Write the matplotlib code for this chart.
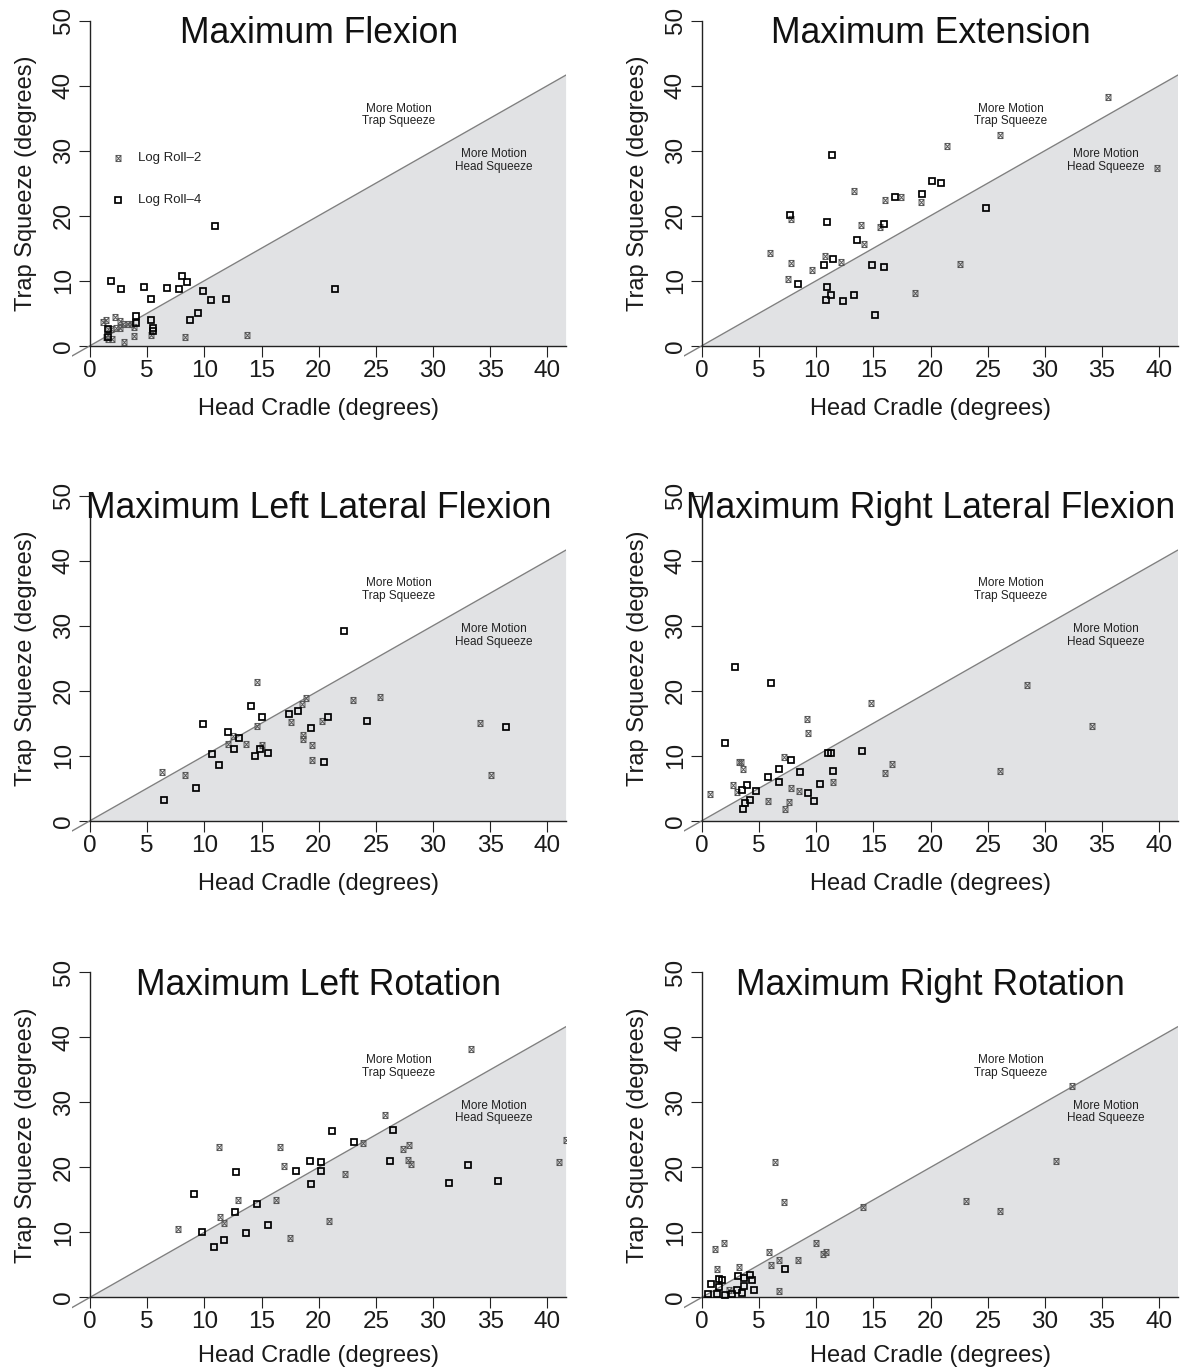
import matplotlib
matplotlib.use("Agg")
import matplotlib.pyplot as plt
from matplotlib.path import Path

plt.rcParams['font.family'] = ['Liberation Sans', 'DejaVu Sans']

titles = ["Maximum Flexion", "Maximum Extension",
          "Maximum Left Lateral Flexion", "Maximum Right Lateral Flexion",
          "Maximum Left Rotation", "Maximum Right Rotation"]
xlabel = "Head Cradle (degrees)"
ylabel = "Trap Squeeze (degrees)"
xticks = [0, 5, 10, 15, 20, 25, 30, 35, 40]
yticks = [0, 10, 20, 30, 40, 50]
legend_labels = ["Log Roll\u20132", "Log Roll\u20134"]
note_trap = "More Motion\nTrap Squeeze"
note_head = "More Motion\nHead Squeeze"

# ---- data: (x = Head Cradle, y = Trap Squeeze) ----
flex_lr2_x = [1.1, 1.4, 2.2, 2.6, 2.6, 2.3, 1.6, 1.6, 1.9, 1.4, 3.0, 3.3, 3.8, 3.8, 5.3, 8.3, 13.7, 1.8, 2.9, 3.6]
flex_lr2_y = [3.7, 3.9, 4.4, 3.8, 2.7, 2.7, 2.5, 1.1, 1.1, 1.3, 0.6, 3.4, 2.9, 1.5, 1.7, 1.4, 1.7, 2.5, 3.3, 3.4]
flex_lr4_x = [10.95, 1.8, 2.7, 4.7, 5.35, 6.75, 7.8, 8.0, 8.5, 9.9, 10.6, 11.85, 21.4, 9.4, 8.7, 4.0, 4.0, 5.35, 5.5, 5.5, 1.6, 1.6]
flex_lr4_y = [18.4, 9.95, 8.7, 9.0, 7.2, 8.9, 8.8, 10.8, 9.85, 8.4, 7.1, 7.2, 8.8, 5.0, 4.0, 4.5, 3.5, 3.9, 2.8, 2.3, 2.5, 1.3]

ext_lr2_x = [26.1, 21.4, 13.3, 16.0, 17.4, 19.2, 7.8, 13.9, 15.6, 14.2, 5.95, 10.8, 12.2, 7.8, 9.6, 7.5, 22.6, 18.6, 35.5, 39.8]
ext_lr2_y = [32.4, 30.8, 23.8, 22.4, 22.9, 22.1, 19.5, 18.6, 18.3, 15.6, 14.3, 13.8, 12.9, 12.7, 11.6, 10.3, 12.5, 8.05, 38.2, 27.3]
ext_lr4_x = [11.35, 7.7, 10.97, 13.6, 15.96, 16.9, 19.25, 20.16, 20.88, 24.88, 11.46, 10.65, 14.85, 15.96, 8.37, 10.97, 11.26, 10.88, 12.37, 13.27, 15.17]
ext_lr4_y = [29.4, 20.1, 19.1, 16.2, 18.8, 22.9, 23.4, 25.4, 25.0, 21.2, 13.3, 12.4, 12.4, 12.1, 9.5, 9.1, 7.85, 7.0, 6.9, 7.8, 4.7]

llf_lr2_x = [14.6, 18.9, 18.5, 23.0, 25.4, 14.6, 17.6, 20.3, 12.5, 12.1, 13.6, 15.0, 18.6, 18.6, 19.4, 19.4, 6.3, 8.3, 34.1, 35.1]
llf_lr2_y = [21.4, 18.9, 17.9, 18.5, 19.0, 14.6, 15.2, 15.3, 13.1, 11.8, 11.8, 11.6, 13.2, 12.5, 11.6, 9.4, 7.5, 7.1, 15.0, 7.1]
llf_lr4_x = [22.2, 14.1, 15.0, 17.4, 18.2, 20.8, 24.2, 9.9, 12.1, 13.0, 12.6, 14.9, 14.4, 15.6, 19.3, 20.5, 10.7, 11.3, 9.3, 6.5, 36.4]
llf_lr4_y = [29.2, 17.6, 15.9, 16.4, 16.9, 15.9, 15.3, 14.9, 13.6, 12.8, 11.1, 11.1, 10.0, 10.4, 14.3, 9.1, 10.3, 8.6, 5.1, 3.2, 14.4]

rlf_lr2_x = [14.8, 9.2, 9.3, 3.25, 3.4, 3.6, 7.2, 16.6, 16.0, 2.7, 3.1, 0.67, 7.8, 8.5, 11.5, 5.8, 7.6, 7.3, 28.4, 34.1, 26.1]
rlf_lr2_y = [18.05, 15.7, 13.5, 9.1, 9.0, 8.0, 9.8, 8.8, 7.4, 5.5, 4.4, 4.05, 5.0, 4.6, 5.9, 3.1, 2.9, 1.85, 20.9, 14.6, 7.6]
rlf_lr4_x = [2.86, 6.0, 2.0, 11.0, 11.3, 14.0, 7.8, 6.7, 8.6, 11.5, 5.8, 6.7, 10.3, 3.9, 3.5, 4.7, 9.3, 4.2, 3.8, 9.8, 3.6]
rlf_lr4_y = [23.6, 21.2, 11.9, 10.4, 10.4, 10.8, 9.3, 7.9, 7.5, 7.7, 6.7, 5.9, 5.7, 5.5, 4.7, 4.6, 4.3, 3.2, 2.7, 3.1, 1.8]

lrot_lr2_x = [25.8, 11.3, 16.6, 17.0, 23.9, 27.4, 27.9, 27.8, 28.1, 22.3, 12.9, 16.3, 11.4, 11.7, 7.7, 20.9, 17.5, 33.3, 41.6, 41.0]
lrot_lr2_y = [28.0, 23.1, 23.1, 20.2, 23.7, 22.8, 23.4, 21.2, 20.5, 18.9, 15.0, 15.0, 12.4, 11.5, 10.5, 11.7, 9.2, 38.2, 24.2, 20.8]
lrot_lr4_x = [21.2, 26.5, 23.1, 19.2, 20.2, 18.0, 20.2, 19.3, 26.2, 12.8, 9.1, 14.6, 12.7, 15.6, 9.8, 13.6, 11.7, 10.8, 33.1, 31.4, 35.7]
lrot_lr4_y = [25.6, 25.7, 23.9, 21.0, 20.8, 19.5, 19.4, 17.5, 21.0, 19.3, 15.9, 14.3, 13.2, 11.2, 10.05, 9.9, 8.8, 7.7, 20.35, 17.6, 17.9]

rrot_lr2_x = [6.36, 7.14, 14.1, 1.95, 1.14, 9.97, 5.83, 6.76, 8.37, 6.0, 10.55, 10.85, 1.28, 3.27, 2.33, 6.73, 23.1, 26.1, 31.0, 32.4]
rrot_lr2_y = [20.8, 14.7, 13.9, 8.3, 7.4, 8.3, 6.9, 5.7, 5.7, 5.0, 6.7, 6.9, 4.3, 4.6, 1.2, 0.9, 14.8, 13.3, 20.9, 32.5]
rrot_lr4_x = [0.5, 1.28, 2.04, 2.6, 3.5, 3.06, 1.46, 0.79, 1.46, 1.72, 3.12, 3.64, 4.23, 4.37, 3.64, 4.58, 7.26]
rrot_lr4_y = [0.5, 0.5, 0.4, 0.5, 0.6, 1.1, 1.6, 2.0, 2.8, 2.6, 3.3, 2.9, 3.5, 2.6, 1.7, 1.2, 4.3]

panels = [
    (flex_lr2_x, flex_lr2_y, flex_lr4_x, flex_lr4_y),
    (ext_lr2_x, ext_lr2_y, ext_lr4_x, ext_lr4_y),
    (llf_lr2_x, llf_lr2_y, llf_lr4_x, llf_lr4_y),
    (rlf_lr2_x, rlf_lr2_y, rlf_lr4_x, rlf_lr4_y),
    (lrot_lr2_x, lrot_lr2_y, lrot_lr4_x, lrot_lr4_y),
    (rrot_lr2_x, rrot_lr2_y, rrot_lr4_x, rrot_lr4_y),
]

# square-with-cross marker (like R pch=7)
w, h = 0.4, 0.5
verts = [(-w, -h), (w, -h), (w, h), (-w, h), (-w, -h),
         (-w, -h), (w, h), (-w, h), (w, -h)]
codes = [Path.MOVETO, Path.LINETO, Path.LINETO, Path.LINETO, Path.CLOSEPOLY,
         Path.MOVETO, Path.LINETO, Path.MOVETO, Path.LINETO]
boxx = Path(verts, codes)

XMIN, XMAX = -1.6, 41.6
YMIN, YMAX = -2.0, 52.0

FW, FH = 1182, 1369
fig = plt.figure(figsize=(FW / 100, FH / 100), dpi=100)

col_left = [71.8, 683.7]
row_bottom = [358.7, 833.7, 1310.3]
xlabel_y = [-0.143, -0.143, -0.129]
aw, ah = 493.8, 351.0

GRAY2 = '#555555'
FILL = '#e1e2e4'
LINEC = '#808080'
MS2, MEW2 = 4.4, 0.7
MS4, MEW4 = 4.7, 1.25

for i, (x2, y2, x4, y4) in enumerate(panels):
    r, c = divmod(i, 2)
    ax = fig.add_axes([col_left[c] / FW, 1 - row_bottom[r] / FH, aw / FW, ah / FH])
    ax.set_xlim(XMIN, XMAX)
    ax.set_ylim(YMIN, YMAX)
    ax.patch.set_visible(False)

    ax.fill_between([0, XMAX], [0, 0], [0, XMAX], color=FILL, lw=0, zorder=1)
    ax.axline((0, 0), slope=1, color=LINEC, lw=1.0, zorder=2)

    ax.plot(x2, y2, linestyle='none', marker=boxx, markersize=MS2,
            markerfacecolor='none', markeredgecolor=GRAY2, markeredgewidth=MEW2, zorder=3)
    ax.plot(x4, y4, linestyle='none', marker='s', markersize=MS4,
            markerfacecolor='none', markeredgecolor='black', markeredgewidth=MEW4, zorder=4)

    for s in ['top', 'right']:
        ax.spines[s].set_visible(False)
    ax.spines['left'].set_position(('data', 0))
    ax.spines['bottom'].set_position(('data', 0))
    ax.spines['left'].set_bounds(0, 50)
    ax.spines['bottom'].set_bounds(0, XMAX)
    for s in ['left', 'bottom']:
        ax.spines[s].set_linewidth(1.0)
        ax.spines[s].set_color('#222222')

    ax.set_xticks(xticks)
    ax.set_yticks(yticks)
    ax.set_xticklabels([str(t) for t in xticks])
    ax.set_yticklabels([str(t) for t in yticks])
    ax.tick_params(axis='both', direction='out', length=8, width=0.8,
                   color='#222222', labelsize=17.5, labelcolor='#1a1a1a')
    ax.tick_params(axis='x', pad=2)
    ax.tick_params(axis='y', pad=3, labelrotation=90)
    for lab in ax.get_yticklabels():
        lab.set_va('center')

    ax.text(0.5, xlabel_y[r], xlabel, transform=ax.transAxes, ha='center', va='center',
            fontsize=17, color='#1a1a1a')
    ax.text(-0.092, 0.5, ylabel, transform=ax.transAxes, ha='center', va='center',
            rotation=90, fontsize=17, color='#1a1a1a')

    ax.text(0.5, 0.899, titles[i], transform=ax.transAxes, ha='center', va='baseline',
            fontsize=25.6, color='#111111')

    ax.text(27.0, 35.5, note_trap, ha='center', va='center', fontsize=8.5,
            linespacing=1.1, color='#222222', zorder=5)
    ax.text(35.3, 28.5, note_head, ha='center', va='center', fontsize=8.5,
            linespacing=1.1, color='#222222', zorder=5)

    if i == 0:
        ax.plot([2.44], [28.9], linestyle='none', marker=boxx, markersize=MS2,
                markerfacecolor='none', markeredgecolor=GRAY2, markeredgewidth=MEW2)
        ax.plot([2.44], [22.4], linestyle='none', marker='s', markersize=MS4,
                markerfacecolor='none', markeredgecolor='black', markeredgewidth=MEW4)
        ax.text(4.2, 28.9, legend_labels[0], ha='left', va='center', fontsize=9.5, color='#222222')
        ax.text(4.2, 22.4, legend_labels[1], ha='left', va='center', fontsize=9.5, color='#222222')

fig.savefig("out.png", dpi=100)
